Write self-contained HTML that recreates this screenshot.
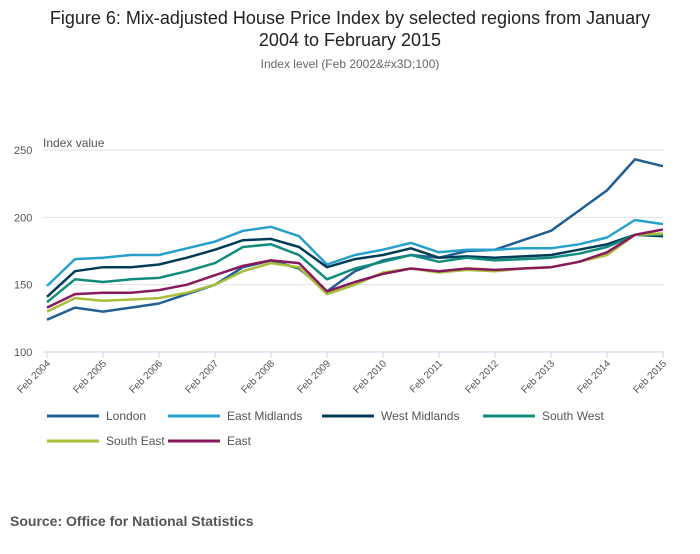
<!DOCTYPE html>
<html><head><meta charset="utf-8"><style>
body{margin:0;background:#fff;font-family:"Liberation Sans",sans-serif;}
svg text{font-family:"Liberation Sans",sans-serif;}
</style></head><body>
<svg id="c" width="700" height="549">
<text x="350" y="24" text-anchor="middle" font-size="18" fill="#222">Figure 6: Mix-adjusted House Price Index by selected regions from January</text>
<text x="350" y="46" text-anchor="middle" font-size="18" fill="#222">2004 to February 2015</text>
<text x="350" y="68" text-anchor="middle" font-size="12" fill="#666">Index level (Feb 2002&amp;#x3D;100)</text>
<text x="43" y="147" font-size="12" fill="#555">Index value</text>
<g id="grid"></g><g id="lines"></g><g id="xaxis"></g><g id="legend"></g>
<text x="10" y="526" font-size="14" font-weight="bold" fill="#555">Source: Office for National Statistics</text>
</svg>
<script>
const monthIdx=[0,6,12,18,24,30,36,42,48,54,60,66,72,78,84,90,96,102,108,114,120,126,132];
const yTicks=[100,150,200,250];
const xLabels=["Feb 2004","Feb 2005","Feb 2006","Feb 2007","Feb 2008","Feb 2009","Feb 2010","Feb 2011","Feb 2012","Feb 2013","Feb 2014","Feb 2015"];
const seriesNames=["London","East Midlands","West Midlands","South West","South East","East"];
const london=[124,133,130,133,136,143,150,163,168,162,145,160,168,172,170,175,176,183,190,205,220,243,238];
const eastMidlands=[149,169,170,172,172,177,182,190,193,186,165,172,176,181,174,176,176,177,177,180,185,198,195];
const westMidlands=[141,160,163,163,165,170,176,183,184,178,163,169,172,177,170,171,170,171,172,176,180,187,186];
const southWest=[137,154,152,154,155,160,166,178,180,172,154,162,167,172,167,170,168,169,170,173,178,187,187];
const southEast=[130,140,138,139,140,144,150,160,166,163,143,150,159,162,159,161,160,162,163,167,172,187,188];
const east=[133,143,144,144,146,150,157,164,168,166,145,152,158,162,160,162,161,162,163,167,174,187,191];
const seriesData=[london,eastMidlands,westMidlands,southWest,southEast,east];
const colors=["#206095","#27a0cc","#003c57","#118c7b","#a8bd3a","#871a5b"];
const NS="http://www.w3.org/2000/svg";
const x=m=>47+m*(663-47)/132;
const y=v=>352-(v-100)*(352-150)/150;
function mk(t,a,p){const e=document.createElementNS(NS,t);for(const k in a)e.setAttribute(k,a[k]);p.appendChild(e);return e;}
const grid=document.getElementById('grid');
yTicks.forEach(v=>{
 const l=mk('line',{x1:43,x2:665,y1:y(v),y2:y(v),stroke:v===100?'#c8d4e8':'#e2e2e2','stroke-width':1},grid);
 
 
 const t=mk('text',{x:14,y:y(v)+4,'font-size':11,fill:'#555'},grid);t.textContent=v;
 
 
});
const xa=document.getElementById('xaxis');
xLabels.forEach((s,i)=>{
 const px=x(i*12);
 const tk=mk('line',{x1:px,x2:px,y1:352,y2:358,stroke:'#c8d4e8'},xa);
 
 
 const t=mk('text',{x:px+4,y:364,'font-size':10,fill:'#555','text-anchor':'end',transform:`rotate(-45 ${px+4} 364)`},xa);
 t.textContent=s;
 
 
});
const lg=document.getElementById('lines');
seriesData.forEach((d,i)=>{
 const p=mk('path',{d:d.map((v,j)=>(j?'L':'M')+x(monthIdx[j]).toFixed(1)+','+y(v).toFixed(1)).join(''),fill:'none',stroke:colors[i],'stroke-width':2.5,'stroke-linejoin':'round'},lg);
 
 
});
const leg=document.getElementById('legend');
const lpos=[[47,416],[168,416],[322,416],[483,416],[47,441],[168,441]];
seriesNames.forEach((n,i)=>{
 const [lx,ly]=lpos[i];
 const g=mk('g',{},leg);
 
 
 mk('line',{x1:lx,x2:lx+52,y1:ly,y2:ly,stroke:colors[i],'stroke-width':3},g);
 const t=mk('text',{x:lx+59,y:ly+4,'font-size':12,fill:'#555'},g);t.textContent=n;
});
</script>
</body></html>
